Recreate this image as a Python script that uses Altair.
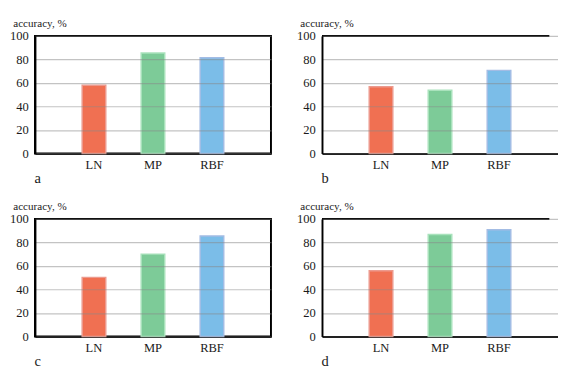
import altair as alt
import pandas as pd

models = ["LN", "MP", "RBF"]
acc_a = [58.0, 85.5, 81.5]
acc_b = [56.7, 53.8, 70.7]
acc_c = [50.3, 70.1, 85.5]
acc_d = [55.9, 86.8, 90.9]
panel_letters = ["a", "b", "c", "d"]
y_ticks = [0, 20, 40, 60, 80, 100]

fill_colors = ["#F07052", "#7DCB98", "#7BBDE8"]
stroke_colors = ["#EC9A8E", "#A9E2BC", "#A3BCE4"]

FONT = "Liberation Serif"


def panel(values, letter, width, right_border):
    df = pd.DataFrame({"model": models, "acc": values})
    if right_border:
        x_scale = alt.Scale(domain=models, paddingInner=0.6, paddingOuter=0.8)
    else:
        x_scale = alt.Scale(domain=models, paddingInner=0.6, paddingOuter=0.8, range=[0, 245])
    y_scale = alt.Scale(domain=[0, 100], nice=False)
    bars = alt.Chart(df).mark_bar(strokeWidth=1.5).encode(
        x=alt.X("model:N", scale=x_scale, sort=models,
                axis=alt.Axis(title=letter, labelAngle=0, ticks=False, labelPadding=6,
                              labelFont=FONT, titleFont=FONT,
                              labelFontSize=13, domainColor="#000", domainWidth=2,
                              titleFontSize=15, titleX=-1, titleY=30,
                              titleAlign="left", titleBaseline="alphabetic")),
        y=alt.Y("acc:Q", scale=y_scale,
                axis=alt.Axis(title="accuracy, %", values=y_ticks, ticks=False, labelPadding=7,
                              labelFont=FONT, titleFont=FONT,
                              labelFontSize=13, labelOverlap=False,
                              minExtent=25, maxExtent=25,
                              domainColor="#000", domainWidth=2,
                              grid=True, gridColor="#888", gridOpacity=0.5, gridWidth=1.2,
                              zindex=1,
                              titleFontSize=11.5, titleAngle=0, titleX=-23, titleY=-19,
                              titleAlign="left", titleBaseline="top")),
        color=alt.Color("model:N", scale=alt.Scale(domain=models, range=fill_colors), legend=None),
        stroke=alt.Stroke("model:N", scale=alt.Scale(domain=models, range=stroke_colors), legend=None),
    )
    top = alt.Chart(pd.DataFrame({"v": [0]})).mark_rule(color="#000", strokeWidth=2).encode(
        y=alt.value(0), x=alt.value(0), x2=alt.value(width)
    )
    ch = alt.layer(bars, top).properties(width=width, height=122)
    if right_border:
        ch = ch.properties(view=alt.ViewBackground(stroke="#000", strokeWidth=2))
    else:
        ch = ch.properties(view=alt.ViewBackground(stroke="transparent", strokeWidth=0))
    return ch


pa = panel(acc_a, panel_letters[0], 245, True)
pb = panel(acc_b, panel_letters[1], 236, False)
pc = panel(acc_c, panel_letters[2], 245, True)
pd_ = panel(acc_d, panel_letters[3], 236, False)

chart = alt.vconcat(
    alt.hconcat(pa, pb, spacing=24),
    alt.hconcat(pc, pd_, spacing=24),
    spacing=14,
).properties(
    padding={"left": 0, "top": 2, "right": 0, "bottom": 0},
    background="white",
).configure_view(
    strokeWidth=0
).configure_axis(
    labelColor="#1a1a1a", titleColor="#1a1a1a", titleFontWeight="normal",
)

chart.save("out.html", embed_options={"renderer": "svg", "actions": False})
